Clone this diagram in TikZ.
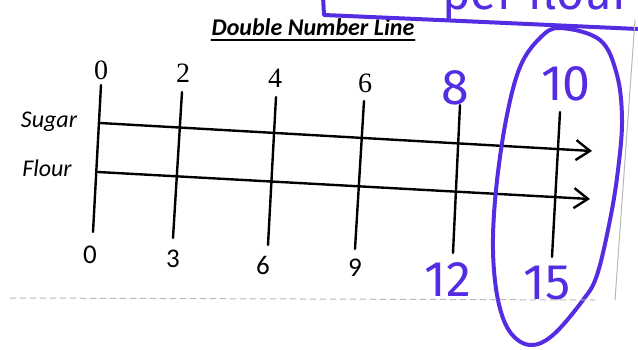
\documentclass[tikz,border=0pt]{standalone}
\usepackage{fontspec}
\setmainfont{Carlito}
\newfontfamily\topnumfont{Liberation Serif}
\newfontfamily\handfont{Fira Sans}
\usetikzlibrary{arrows.meta}
\definecolor{penblue}{RGB}{84,44,226}

\begin{document}
\begin{tikzpicture}[x=0.5pt, y=-0.5pt, line cap=round, line join=round, >={Straight Barb[length=7pt,width=10pt]}]
\tikzset{numline/.style={->, line width=1.2pt}, tickline/.style={line width=1.2pt},
  toplbl/.style={font=\topnumfont\fontsize{14}{14}\selectfont, inner sep=0pt},
  botlbl/.style={font=\fontsize{13.5}{13.5}\selectfont, inner sep=0pt},
  rowlbl/.style={font=\itshape\fontsize{12}{12}\selectfont, inner sep=0pt},
  pen/.style={penblue, line width=2pt},
  penlbl/.style={penblue, font=\handfont\fontsize{25}{25}\selectfont, inner sep=0pt},
  scan/.style={gray!55, line width=0.5pt}}

\clip (0,0) rectangle (638,349);

% title
\node[font=\bfseries\itshape\fontsize{12}{12}\selectfont, inner sep=0pt, anchor=base] (title) at (313,35) {Double Number Line};
\draw[line width=0.8pt] ([yshift=-2.5pt]title.base west) -- ([yshift=-2.5pt]title.base east);

% tick ends (px)
\coordinate (T0) at (101, 85); \coordinate (B0) at ( 93,232);
\coordinate (T1) at (182, 92); \coordinate (B1) at (173,238);
\coordinate (T2) at (276, 97); \coordinate (B2) at (268,245);
\coordinate (T3) at (364,101); \coordinate (B3) at (355,249);
\coordinate (T4) at (460,105); \coordinate (B4) at (453,253);
\coordinate (T5) at (560,112); \coordinate (B5) at (552,257);

% number lines
\coordinate (S0) at (100,123); \coordinate (S1) at (592,151);
\coordinate (F0) at ( 98,172); \coordinate (F1) at (590,199);
\draw[numline] (S0) -- (S1);
\draw[numline] (F0) -- (F1);

\foreach \i in {0,...,5}{
  \draw[tickline] (T\i) -- (B\i);
}

% row names
\node[rowlbl] (sugar) at (49,122) {Sugar};
\node[rowlbl] (flour) at (47,168) {Flour};

% printed values
\foreach \i/\x/\y/\v in {0/101/70/0, 1/183/73/2, 2/275/78/4, 3/365/83/6}{
  \node[toplbl] (top\i) at (\x,\y) {\v};
}
\foreach \i/\x/\y/\v in {0/90/255/0, 1/173/259/3, 2/263/265/6, 3/355/268/9}{
  \node[botlbl] (bot\i) at (\x,\y) {\v};
}

% handwritten values
\node[penlbl] (top4) at (455,88) {8};
\node[penlbl] (top5) at (566,84) {10};
\node[penlbl] (bot4) at (448,280) {12};
\node[penlbl] (bot5) at (547,283) {15};

% pen box at the top (cut off)
\node[penlbl, font=\handfont\fontsize{24}{24}\selectfont, anchor=base west] (note) at (442,9) {per flour};
\draw[pen] (323,-4) -- (324,15) .. controls (440,20) .. (638,29);

% circled column
\draw[pen] plot[smooth cycle, tension=0.6] coordinates {(560,28) (600,40) (617,75) (622,120) (618,170)
  (610,220) (597,275) (583,300) (553,335) (530,345) (510,332) (498,300) (493,250) (496,190)
  (506,120) (520,67) (540,38)};

% scan marks
\draw[scan, densely dashed] (10,298) -- (595,300);
\draw[scan] (635,20) -- (615,300);
\end{tikzpicture}
\end{document}
